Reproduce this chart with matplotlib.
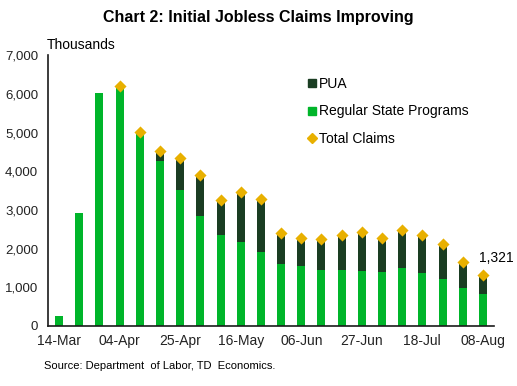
import matplotlib.pyplot as plt
import numpy as np
from matplotlib.lines import Line2D
from matplotlib.ticker import FuncFormatter

plt.rcParams['font.family'] = ['Liberation Sans', 'DejaVu Sans']

weeks = ['14-Mar', '21-Mar', '28-Mar', '04-Apr', '11-Apr', '18-Apr', '25-Apr',
         '02-May', '09-May', '16-May', '23-May', '30-May', '06-Jun', '13-Jun',
         '20-Jun', '27-Jun', '04-Jul', '11-Jul', '18-Jul', '25-Jul', '01-Aug',
         '08-Aug']
regular = [251, 2920, 6015, 6211, 4970, 4270, 3517, 2845, 2353, 2172, 1914,
           1603, 1552, 1448, 1448, 1422, 1397, 1500, 1371, 1216, 983, 828]
pua = [0, 0, 0, 0, 40, 247, 819, 1060, 897, 1285, 1362,
       811, 715, 793, 897, 1000, 870, 974, 974, 896, 672, 493]
total = [r + p for r, p in zip(regular, pua)]

green = '#00B52A'
dark = '#1A3D22'
gold = '#E8B000'

fig = plt.figure(figsize=(5.17, 3.86), dpi=100)
ax = fig.add_axes([48 / 517, 1 - 326 / 386, 446 / 517, 270.7 / 386])

x = np.arange(len(weeks))
ax.bar(x, regular, width=0.4, color=green, zorder=2)
ax.bar(x, pua, width=0.4, bottom=regular, color=dark, zorder=2)
ax.scatter(x[3:], total[3:], marker='D', s=38, color=gold, zorder=3, linewidths=0)

ax.annotate(f'{total[-1]:,}', (x[-1], total[-1]), xytext=(-3, 7),
            textcoords='offset points', ha='left', va='bottom', fontsize=10)

ax.set_xlim(-0.55, 21.55)
ax.set_ylim(0, 7000)
ax.set_yticks(range(0, 7001, 1000))
ax.yaxis.set_major_formatter(FuncFormatter(lambda v, p: f'{int(v):,}'))
ax.set_xticks(x[::3])
ax.set_xticklabels(weeks[::3])
ax.tick_params(length=0, labelsize=10, colors='#222222')
ax.tick_params(axis='y', labelsize=9.5, pad=7)
ax.tick_params(axis='x', pad=6)
for s in ['top', 'right']:
    ax.spines[s].set_visible(False)
for s in ['left', 'bottom']:
    ax.spines[s].set_color('#1a1a1a')
    ax.spines[s].set_linewidth(1.2)

handles = [Line2D([], [], marker='s', ls='', color=dark, markersize=6),
           Line2D([], [], marker='s', ls='', color=green, markersize=6),
           Line2D([], [], marker='D', ls='', color=gold, markersize=5)]
ax.legend(handles, ['PUA', 'Regular State Programs', 'Total Claims'],
          loc='upper left', bbox_to_anchor=(0.555, 0.965), frameon=False,
          fontsize=10, handlelength=0.6, handletextpad=0.2, labelspacing=0.95)

fig.text(0.5, 0.955, 'Chart 2: Initial Jobless Claims Improving', ha='center',
         va='center', fontsize=11.5, fontweight='bold')
fig.text(47 / 517, 1 - 45 / 386, 'Thousands', ha='left', va='center', fontsize=10)
fig.text(44 / 517, 1 - 366 / 386, 'Source: Department  of Labor, TD  Economics.',
         ha='left', va='center', fontsize=8)

fig.savefig('out.png', dpi=100)
